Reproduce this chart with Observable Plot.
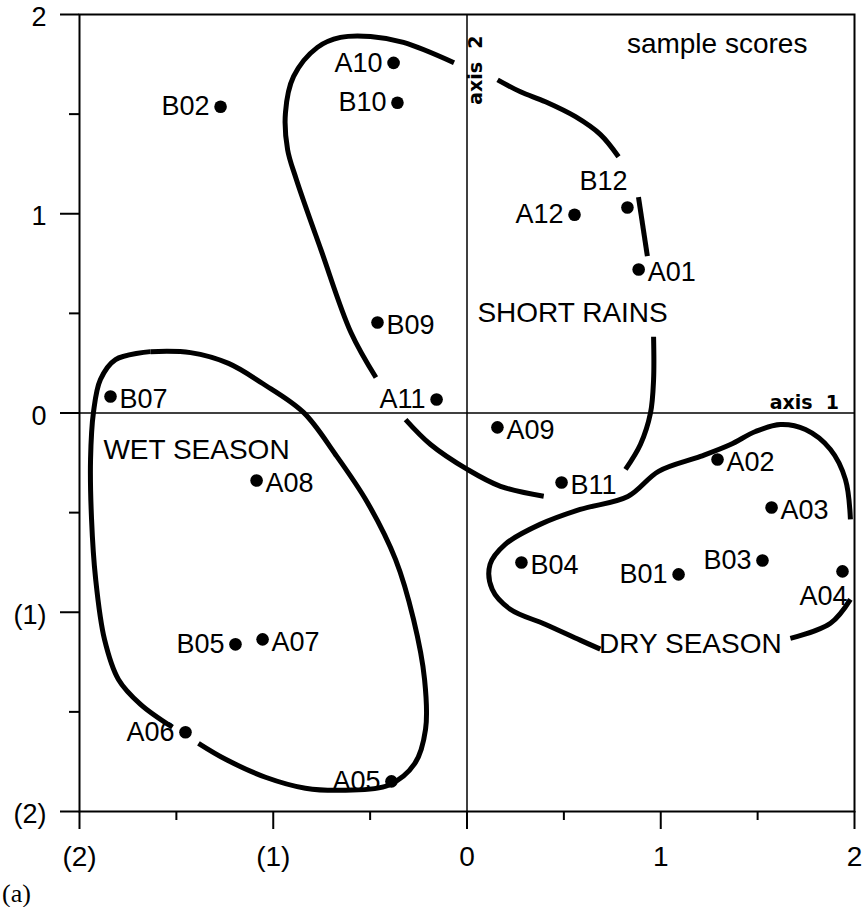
<!DOCTYPE html>
<html>
<head>
<meta charset="utf-8">
<script src="https://cdn.jsdelivr.net/npm/d3@7"></script>
<script src="https://cdn.jsdelivr.net/npm/@observablehq/plot@0.6"></script>
<style>
  body { margin: 0; background: #fff; }
  #chart svg { display: block; }
  #cap { font-family: "Liberation Serif", "DejaVu Serif", serif; font-size: 26px; margin: 6px 0 0 2px; color: #000; line-height: 1; }
</style>
</head>
<body>
<div id="chart"></div>
<div id="cap">(a)</div>
<script>
// sample scores (axis 1, axis 2)
const samples = ["A10","B10","B02","B12","A12","A01","B09","B07","A11","A09","A02","B11","A08","A03","B04","B01","B03","A04","B05","A07","A06","A05"];
const axis1   = [-0.379,-0.359,-1.272,0.828,0.555,0.886,-0.462,-1.840,-0.157,0.157,1.293,0.488,-1.086,1.572,0.281,1.092,1.525,1.938,-1.195,-1.055,-1.453,-0.390];
const axis2   = [1.757,1.557,1.537,1.031,0.995,0.720,0.454,0.083,0.068,-0.072,-0.233,-0.349,-0.339,-0.474,-0.750,-0.810,-0.740,-0.795,-1.161,-1.136,-1.602,-1.849];
const labelSide = ["left","left","left","above","left","right","right","right","left","right","right","right","right","right","right","left","left","below","left","right","left","left"];

// axis ticks
const majorTicks = [-2,-1,0,1,2];
const minorTicks = [-1.5,-0.5,0.5,1.5];
const tickLabels = ["(2)","(1)","0","1","2"];

// group envelopes (hand-drawn outlines, open segments)
const shortRains = [
  [[-0.067,1.758],[-0.328,1.860],[-0.498,1.890],[-0.653,1.885],[-0.772,1.835],[-0.895,1.689],[-0.937,1.507],[-0.926,1.322],[-0.882,1.176],[-0.754,0.820],[-0.599,0.404],[-0.470,0.178]],
  [[-0.317,-0.033],[-0.188,-0.158],[0.002,-0.283],[0.173,-0.368],[0.396,-0.418]],
  [[0.818,-0.283],[0.895,-0.158],[0.947,0.000],[0.963,0.168],[0.963,0.383]],
  [[0.885,1.083],[0.931,0.787]],
  [[0.782,1.286],[0.689,1.397],[0.560,1.487],[0.405,1.562],[0.276,1.612],[0.158,1.672]]
];
const wetSeason = [
  [[-1.634,0.308],[-1.427,0.303],[-1.231,0.249],[-1.055,0.148],[-0.844,0.003],[-0.679,-0.208],[-0.514,-0.449],[-0.369,-0.735],[-0.276,-1.036],[-0.219,-1.337],[-0.214,-1.588],[-0.270,-1.760],[-0.405,-1.868],[-0.627,-1.893],[-0.834,-1.883],[-1.040,-1.828],[-1.246,-1.738],[-1.386,-1.658]],
  [[-1.520,-1.577],[-1.685,-1.462],[-1.799,-1.337],[-1.871,-1.136],[-1.917,-0.830],[-1.938,-0.529],[-1.943,-0.233],[-1.928,0.003],[-1.892,0.168],[-1.814,0.268],[-1.634,0.308]]
];
const drySeason = [
  [[1.979,-0.534],[1.953,-0.333],[1.876,-0.183],[1.747,-0.083],[1.618,-0.058],[1.489,-0.093],[1.360,-0.158],[1.205,-0.218],[0.989,-0.293],[0.830,-0.419],[0.584,-0.484],[0.377,-0.559],[0.197,-0.659],[0.119,-0.760],[0.130,-0.885],[0.223,-0.985],[0.403,-1.060],[0.584,-1.140],[0.688,-1.185]],
  [[1.669,-1.131],[1.876,-1.055],[1.979,-0.935]]
];
const groupNames = ["SHORT RAINS","WET SEASON","DRY SEASON"];
const groupX = [0.545,-1.396,1.153];
const groupY = [0.504,-0.188,-1.161];

const pts = samples.map((s,i)=>({name:s, x:axis1[i], y:axis2[i], side:labelSide[i]}));
const segs = [];
[shortRains, wetSeason, drySeason].forEach((g,gi)=>g.forEach((seg,si)=>seg.forEach(p=>segs.push({g:gi+"-"+si, x:p[0], y:p[1]}))));
const groups = groupNames.map((n,i)=>({name:n, x:groupX[i], y:groupY[i]}));

const font = "Liberation Sans, Arial, Helvetica, sans-serif";
const chart = Plot.plot({
  width: 866, height: 875,
  marginLeft: 79, marginRight: 12, marginTop: 14, marginBottom: 64,
  style: {fontFamily: font, color: "#000", background: "#fff"},
  x: {domain: [-2, 2]},
  y: {domain: [-2, 2]},
  marks: [
    Plot.ruleX([0], {stroke: "#000", strokeWidth: 1.5}),
    Plot.ruleY([0], {stroke: "#000", strokeWidth: 1.5}),
    Plot.frame({stroke: "#000", strokeWidth: 2}),
    Plot.axisX(majorTicks, {tickSize: 18, tickPadding: 17, tickFormat: (d)=>tickLabels[majorTicks.indexOf(d)], fontSize: 28, strokeWidth: 2, label: null}),
    Plot.axisX(minorTicks, {tickSize: 9, tickFormat: null, strokeWidth: 2, label: null, text: null}),
    Plot.axisY(majorTicks, {tickSize: 19, strokeWidth: 2, label: null, text: null}),
    Plot.axisY(majorTicks, {tickSize: 19, tickPadding: 14, dy: 3, strokeOpacity: 0, tickFormat: (d)=>tickLabels[majorTicks.indexOf(d)], fontSize: 27, label: null}),
    Plot.axisY(minorTicks, {tickSize: 10, tickFormat: null, strokeWidth: 2, label: null, text: null}),
    Plot.line(segs, {x: "x", y: "y", z: "g", curve: "catmull-rom", stroke: "#000", strokeWidth: 5, strokeLinecap: "butt"}),
    Plot.dot(pts, {x: "x", y: "y", r: 6.3, fill: "#000"}),
    Plot.text(pts.filter(d=>d.side==="left"), {x:"x", y:"y", text:"name", textAnchor:"end", dx:-11, fontSize: 27, fill:"#000"}),
    Plot.text(pts.filter(d=>d.side==="right"), {x:"x", y:"y", text:"name", textAnchor:"start", dx:9, dy:3, fontSize: 27, fill:"#000"}),
    Plot.text(pts.filter(d=>d.side==="above"), {x:"x", y:"y", text:"name", textAnchor:"middle", dx:-24, dy:-26, fontSize: 27, fill:"#000"}),
    Plot.text(pts.filter(d=>d.side==="below"), {x:"x", y:"y", text:"name", textAnchor:"middle", dx:-19, dy:25, fontSize: 27, fill:"#000"}),
    Plot.text(groups, {x:"x", y:"y", text:"name", fontSize: 28, fill:"#000"}),
    Plot.text(["sample scores"], {x: 1.757, y: 1.85, text: d=>d, textAnchor: "end", fontSize: 28, fill:"#000"}),
    Plot.text(["axis  1"], {x: 1.92, y: 0.05, text: d=>d, textAnchor: "end", fontSize: 19, fontWeight: "bold", fontFamily: "DejaVu Sans, sans-serif", fill:"#000"}),
    Plot.text(["axis  2"], {x: 0, y: 1.547, text: d=>d, textAnchor: "start", rotate: -90, dx: 9, fontSize: 19, fontWeight: "bold", fontFamily: "DejaVu Sans, sans-serif", fill:"#000"})
  ]
});
document.getElementById("chart").appendChild(chart);
</script>
</body>
</html>
